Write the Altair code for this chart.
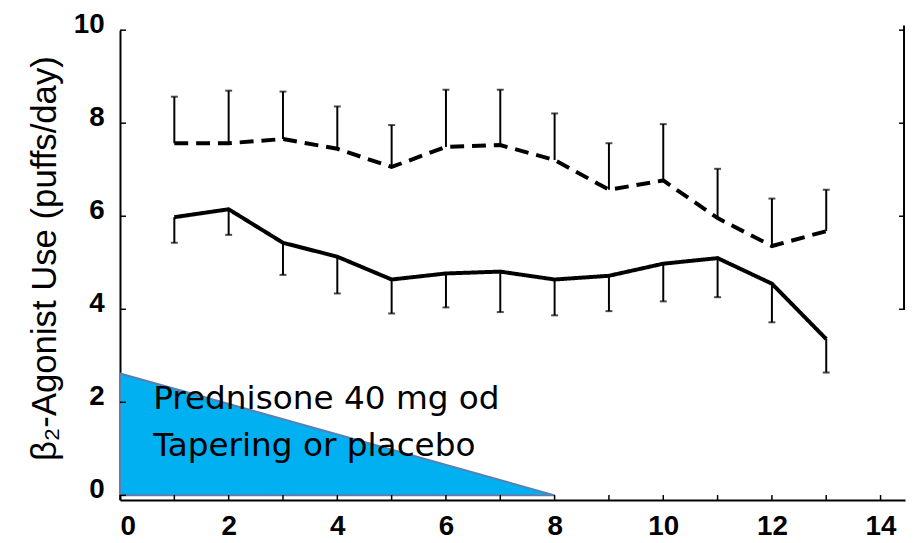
import altair as alt
import pandas as pd

# ---- data ----
weeks = [1, 2, 3, 4, 5, 6, 7, 8, 9, 10, 11, 12, 13]
pred_mean = [5.98, 6.15, 5.43, 5.13, 4.64, 4.77, 4.81, 4.64, 4.72, 4.98, 5.10, 4.55, 3.36]
pred_low = [5.43, 5.60, 4.74, 4.34, 3.91, 4.04, 3.94, 3.87, 3.96, 4.17, 4.26, 3.72, 2.64]
plac_mean = [7.57, 7.57, 7.66, 7.45, 7.06, 7.49, 7.53, 7.21, 6.57, 6.77, 5.96, 5.36, 5.68]
plac_high = [8.57, 8.70, 8.68, 8.36, 7.96, 8.72, 8.72, 8.21, 7.57, 7.98, 7.02, 6.38, 6.57]

taper_x = [0, 8]
taper_y = [2.62, 0]
taper_label = ["Prednisone 40 mg od", "Tapering or placebo"]

x_ticks = list(range(0, 15))
y_ticks = [0, 2, 4, 6, 8, 10]
right_ticks = [10, 8, 6, 4]

W, H = 792, 474
LABEL_FONT = "Liberation Sans"

xs = alt.Scale(domain=[0, 14.45], nice=False, zero=False)
ys = alt.Scale(domain=[-0.1, 10], nice=False, zero=False)

pred = pd.DataFrame({"week": weeks, "mean": pred_mean, "err": pred_low})
plac = pd.DataFrame({"week": weeks, "mean": plac_mean, "err": plac_high})
taper = pd.DataFrame({"x": taper_x, "y": taper_y})

x_axis = alt.Axis(values=x_ticks, labelExpr="datum.value % 2 == 0 ? datum.label : ''",
                  ticks=False, tickSize=0, grid=False, domainColor="black", domainWidth=2,
                  labelFont=LABEL_FONT, labelFontWeight="bold", labelFontSize=28,
                  labelColor="black", labelPadding=13, title=None)
y_axis = alt.Axis(values=y_ticks, ticks=False, tickSize=0, grid=False, domainColor="black",
                  domainWidth=2, labelFont=LABEL_FONT, labelFontWeight="bold", labelFontSize=28,
                  labelColor="black", labelPadding=16, labelOffset=-6,
                  title="β₂-Agonist Use (puffs/day)", titleFont=LABEL_FONT, titleFontSize=35,
                  titleFontWeight="normal", titleColor="black", titleAngle=-90,
                  titleBaseline="middle", titleAlign="center", titleX=-76, titleY=230)

tri = alt.Chart(taper).mark_area(color="#00B0F0", stroke="#5B7FB0", strokeWidth=2, opacity=1).encode(
    x=alt.X("x:Q", scale=xs, axis=x_axis),
    y=alt.Y("y:Q", scale=ys, axis=y_axis),
)

txt = alt.Chart(pd.DataFrame({"t": [0]})).mark_text(
    font="DejaVu Sans", fontSize=33, align="left", baseline="alphabetic",
    lineHeight=47, color="black"
).encode(
    x=alt.datum(0.61, scale=xs),
    y=alt.datum(1.855, scale=ys),
    text=alt.value(taper_label),
)

def series(df, dash):
    line = alt.Chart(df).mark_line(color="black", strokeWidth=4,
                                   strokeDash=dash, strokeCap="butt").encode(
        x=alt.X("week:Q", scale=xs), y=alt.Y("mean:Q", scale=ys))
    bar = alt.Chart(df).mark_rule(color="black", strokeWidth=2).encode(
        x=alt.X("week:Q", scale=xs), y=alt.Y("mean:Q", scale=ys), y2="err:Q")
    cap = alt.Chart(df).mark_tick(color="black", orient="horizontal", size=7, thickness=2).encode(
        x=alt.X("week:Q", scale=xs), y=alt.Y("err:Q", scale=ys))
    return [bar, cap, line]

xt = alt.Chart(pd.DataFrame({"v": x_ticks})).mark_rule(color="black", strokeWidth=1.5).encode(
    x=alt.X("v:Q", scale=xs), y=alt.value(H), y2=alt.value(H - 5))
yt = alt.Chart(pd.DataFrame({"v": y_ticks})).mark_rule(color="black", strokeWidth=1.5).encode(
    y=alt.Y("v:Q", scale=ys), x=alt.value(0), x2=alt.value(6))
rt = alt.Chart(pd.DataFrame({"v": right_ticks})).mark_rule(color="black", strokeWidth=1.5).encode(
    y=alt.Y("v:Q", scale=ys), x=alt.value(W - 6), x2=alt.value(W))
rline = alt.Chart(pd.DataFrame({"a": [10.1], "b": [4.0]})).mark_rule(color="black", strokeWidth=2).encode(
    x=alt.value(W - 1), y=alt.Y("a:Q", scale=ys), y2="b:Q")

chart = alt.layer(
    tri, txt, *series(pred, [1, 0]), *series(plac, [14, 8]), xt, yt, rt, rline
).properties(
    width=W, height=H,
    autosize=alt.AutoSizeParams(type="none"),
    padding={"left": 113, "top": 20, "right": 1, "bottom": 40},
    background="white",
).configure_view(stroke=None)

chart.save("out.html", embed_options={"renderer": "svg", "actions": False})
